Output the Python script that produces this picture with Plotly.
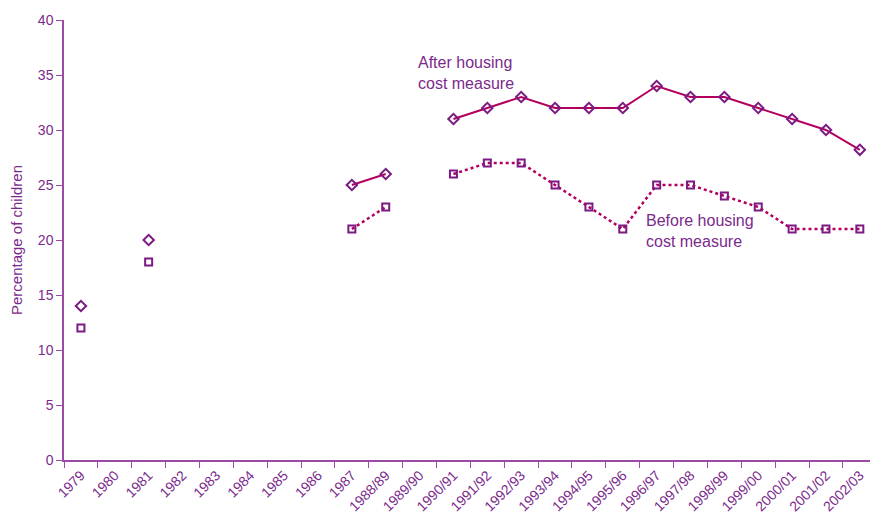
import plotly.graph_objects as go

categories = ["1979", "1980", "1981", "1982", "1983", "1984", "1985", "1986", "1987",
              "1988/89", "1989/90", "1990/91", "1991/92", "1992/93", "1993/94", "1994/95",
              "1995/96", "1996/97", "1997/98", "1998/99", "1999/00", "2000/01", "2001/02", "2002/03"]
after_housing = [14, None, 20, None, None, None, None, None, 25,
                 26, None, 31, 32, 33, 32, 32,
                 32, 34, 33, 33, 32, 31, 30, 28.2]
before_housing = [12, None, 18, None, None, None, None, None, 21,
                  23, None, 26, 27, 27, 25, 23,
                  21, 25, 25, 24, 23, 21, 21, 21]

LINE = "#B3005E"
MARK = "#7A1A82"
TEXT = "#7B2A8C"
AXIS = "#9B4BA6"
FONT = "Liberation Sans"

fig = go.Figure()
fig.add_trace(go.Scatter(
    x=categories, y=after_housing, mode="lines+markers",
    line=dict(color=LINE, width=2),
    marker=dict(symbol="diamond-open", size=8, color=MARK, line=dict(width=2, color=MARK)),
    connectgaps=False, showlegend=False))
fig.add_trace(go.Scatter(
    x=categories, y=before_housing, mode="lines+markers",
    line=dict(color=LINE, width=2.5, dash="dot"),
    marker=dict(symbol="square-open", size=7, color=MARK, line=dict(width=2, color=MARK)),
    connectgaps=False, showlegend=False))

fig.add_annotation(x="1990/91", y=35.2, xref="x", yref="y", text="After housing<br>cost measure",
                   showarrow=False, xanchor="left", yanchor="middle", xshift=-37, align="left",
                   font=dict(family=FONT, size=16, color=TEXT))
fig.add_annotation(x="1996/97", y=20.8, xref="x", yref="y", text="Before housing<br>cost measure",
                   showarrow=False, xanchor="left", yanchor="middle", xshift=-13, align="left",
                   font=dict(family=FONT, size=16, color=TEXT))

fig.update_layout(
    width=871, height=515,
    margin=dict(l=64, r=1, t=20, b=55),
    paper_bgcolor="white", plot_bgcolor="white",
    font=dict(family=FONT, color=TEXT, size=14),
    xaxis=dict(
        type="category", categoryorder="array", categoryarray=categories,
        range=[-0.5, 23.3], tickson="boundaries", ticks="outside", ticklen=6,
        tickcolor=AXIS, showline=True, linecolor=AXIS, linewidth=1.5,
        showgrid=False, zeroline=False, tickangle=-45, automargin=False,
        tickfont=dict(family=FONT, size=14, color=TEXT)),
    yaxis=dict(
        range=[0, 40], dtick=5, ticks="outside", ticklen=6, tickcolor=AXIS,
        showline=True, linecolor=AXIS, linewidth=1.5, showgrid=False, zeroline=False,
        automargin=False,
        tickfont=dict(family=FONT, size=14, color=TEXT),
        title=dict(text="Percentage of children", font=dict(family=FONT, size=15, color=TEXT),
                   standoff=12)),
)

fig.write_html("out.html", config={"displayModeBar": False},
               post_script="document.body.style.margin='0';document.body.style.overflow='hidden';")
